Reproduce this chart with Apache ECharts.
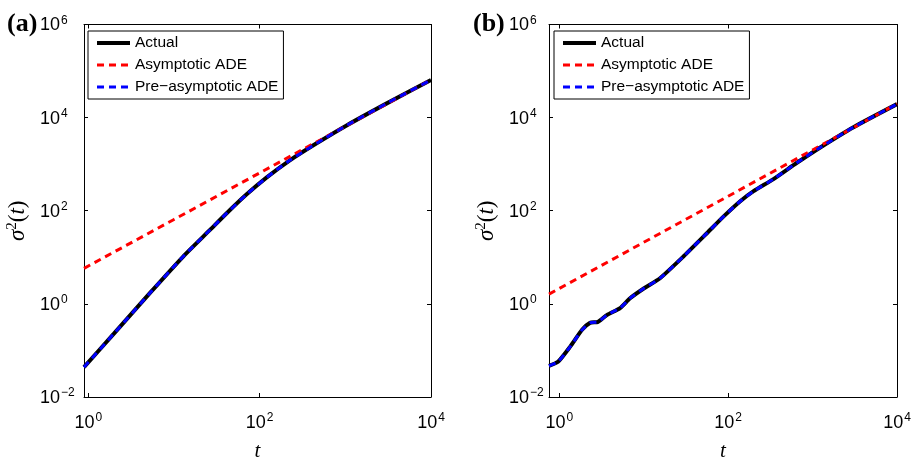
<!DOCTYPE html>
<html>
<head>
<meta charset="utf-8">
<script src="https://cdn.jsdelivr.net/npm/echarts@6.0.0/dist/echarts.min.js"></script>
<style>
  html, body { margin: 0; padding: 0; background: #fff; }
  #chart { width: 914px; height: 457px; }
</style>
</head>
<body>
<div id="chart"></div>
<script>
// Panel (a): variance sigma^2(t) versus time t
const actualA = [
  [0.89, 0.0438], [2, 0.232], [5.25, 1.72], [12.8, 10.4], [26.3, 38.7],
  [41.2, 88.3], [70.5, 225], [121, 520], [225, 1210], [462, 2810],
  [1035, 6800], [3162, 21000], [10000, 64600]
];
const asymptoticA = [
  [0.89, 5.8], [10, 65], [100, 650], [1000, 6500], [10000, 65000]
];
const preAsymptoticA = [
  [0.89, 0.0438], [2, 0.232], [5.25, 1.72], [12.8, 10.4], [26.3, 38.7],
  [41.2, 88.3], [70.5, 225], [121, 520], [225, 1210], [462, 2810],
  [1035, 6800], [3162, 21000], [10000, 64600]
];

// Panel (b)
const actualB = [
  [0.755, 0.0468], [0.966, 0.0569], [1.34, 0.119], [1.86, 0.277], [2.31, 0.391],
  [2.88, 0.411], [3.68, 0.581], [5.25, 0.813], [6.89, 1.32], [10, 2.14],
  [15.6, 3.56], [29.5, 10.4], [56.0, 32.9], [87.9, 74.6], [139, 160],
  [200, 263], [344, 479], [652, 1072], [1233, 2290], [3090, 6310], [10000, 19500]
];
const asymptoticB = [
  [0.755, 1.62], [10, 21], [100, 205], [1000, 2020], [10000, 19800]
];
const preAsymptoticB = [
  [0.755, 0.0468], [0.966, 0.0569], [1.34, 0.119], [1.86, 0.277], [2.31, 0.391],
  [2.88, 0.411], [3.68, 0.581], [5.25, 0.813], [6.89, 1.32], [10, 2.14],
  [15.6, 3.56], [29.5, 10.4], [56.0, 32.9], [87.9, 74.6], [139, 160],
  [200, 263], [344, 479], [652, 1072], [1233, 2290], [3090, 6310], [10000, 19500]
];

const seriesNames = ['Actual', 'Asymptotic ADE', 'Pre\u2212asymptotic ADE'];
const xTicks = [1, 100, 10000];
const yTicks = [0.01, 1, 100, 10000, 1000000];
const xMinA = 0.89, xMinB = 0.755, xMax = 10000;
const yMin = 0.01, yMax = 1000000;

const SANS = '"Liberation Sans", Arial, Helvetica, sans-serif';
const SERIF = '"Liberation Serif", "Times New Roman", serif';

// "10" with a raised exponent
function powLabel(v) {
  const e = Math.round(Math.log10(v));
  const s = e < 0 ? '\u2212' + (-e) : String(e);
  return '{b|10}{s|' + s + '}';
}
const powRich = {
  b: { fontSize: 18, fontFamily: SANS, color: '#000', lineHeight: 20, verticalAlign: 'bottom' },
  s: { fontSize: 12, fontFamily: SANS, color: '#000', lineHeight: 12, verticalAlign: 'top', padding: [0, 0, 0, 1] }
};

function xAxes(gridIndex, min) {
  const common = {
    type: 'log', logBase: 10, gridIndex: gridIndex, min: min, max: xMax,
    axisLine: { show: true, onZero: false, lineStyle: { color: '#000', width: 1 } },
    axisTick: { show: true, inside: true, length: 4, customValues: xTicks, lineStyle: { color: '#000' } },
    splitLine: { show: false }, minorTick: { show: false }
  };
  return [
    Object.assign({}, common, {
      position: 'bottom',
      axisLabel: { show: true, customValues: xTicks, margin: 15, formatter: powLabel, rich: powRich },
      name: 't', nameLocation: 'middle', nameGap: 44,
      nameTextStyle: { fontFamily: SERIF, fontStyle: 'italic', fontSize: 21, color: '#000' }
    }),
    Object.assign({}, common, { position: 'top', axisLabel: { show: false } })
  ];
}

function yAxes(gridIndex, labelMargin, nameGap) {
  const common = {
    type: 'log', logBase: 10, gridIndex: gridIndex, min: yMin, max: yMax,
    axisLine: { show: true, onZero: false, lineStyle: { color: '#000', width: 1 } },
    axisTick: { show: true, inside: true, length: 4, customValues: yTicks, lineStyle: { color: '#000' } },
    splitLine: { show: false }, minorTick: { show: false }
  };
  return [
    Object.assign({}, common, {
      position: 'left',
      axisLabel: { show: true, customValues: yTicks, margin: labelMargin, align: 'left', formatter: powLabel, rich: powRich },
      name: '{i|\u03C3}{s|2}{p|(}{i|t}{p|)}', nameLocation: 'middle', nameGap: nameGap,
      nameTextStyle: {
        padding: [0, 20, 0, 0],
        rich: {
          i: { fontFamily: SERIF, fontStyle: 'italic', fontSize: 23, color: '#000', lineHeight: 24, verticalAlign: 'bottom' },
          p: { fontFamily: SERIF, fontSize: 23, color: '#000', lineHeight: 24, verticalAlign: 'bottom' },
          s: { fontFamily: SERIF, fontSize: 15, color: '#000', lineHeight: 14, verticalAlign: 'top' }
        }
      }
    }),
    Object.assign({}, common, { position: 'right', axisLabel: { show: false } })
  ];
}

function panelSeries(xi, yi, actual, asym, pre) {
  return [
    { name: seriesNames[0], type: 'line', xAxisIndex: xi, yAxisIndex: yi, data: actual,
      symbol: 'none', smooth: 0.2, color: '#000',
      lineStyle: { color: '#000', width: 4 } },
    { name: seriesNames[1], type: 'line', xAxisIndex: xi, yAxisIndex: yi, data: asym,
      symbol: 'none', color: '#ff0000',
      lineStyle: { color: '#ff0000', width: 3, type: [7, 5] } },
    { name: seriesNames[2], type: 'line', xAxisIndex: xi, yAxisIndex: yi, data: pre,
      symbol: 'none', smooth: 0.2, color: '#0000ff',
      lineStyle: { color: '#0000ff', width: 3, type: [7, 5] } }
  ];
}

function legendAt(left) {
  return {
    left: left, top: 31, orient: 'vertical',
    data: [
      { name: seriesNames[0], lineStyle: { width: 4, color: '#000' } },
      { name: seriesNames[1], lineStyle: { width: 3, color: '#ff0000', type: [7, 5] } },
      { name: seriesNames[2], lineStyle: { width: 3, color: '#0000ff', type: [7, 5] } }
    ],
    itemStyle: { opacity: 0 },
    backgroundColor: '#fff', borderColor: '#000', borderWidth: 1,
    padding: [4, 5, 4, 7], itemWidth: 33, itemHeight: 14, itemGap: 6,
    selectedMode: false,
    textStyle: { fontFamily: SANS, fontSize: 15.5, color: '#000' }
  };
}

const chart = echarts.init(document.getElementById('chart'), null, { renderer: 'canvas' });
chart.setOption({
  animation: false,
  backgroundColor: '#fff',
  grid: [
    { left: 84, top: 24.5, width: 347, height: 372.5, containLabel: false, outerBoundsMode: 'none' },
    { left: 549, top: 24.5, width: 348, height: 372.5, containLabel: false, outerBoundsMode: 'none' }
  ],
  xAxis: [].concat(xAxes(0, xMinA), xAxes(1, xMinB)),
  yAxis: [].concat(yAxes(0, 44, 55), yAxes(1, 40, 51)),
  legend: [legendAt(88), legendAt(554)],
  series: [].concat(
    panelSeries(0, 0, actualA, asymptoticA, preAsymptoticA),
    panelSeries(2, 2, actualB, asymptoticB, preAsymptoticB)
  ),
  graphic: [
    { type: 'text', left: 7, top: 11, style: { text: '(a)', font: 'bold 26px ' + SERIF, fill: '#000' } },
    { type: 'text', left: 473, top: 11, style: { text: '(b)', font: 'bold 26px ' + SERIF, fill: '#000' } }
  ]
});
</script>
</body>
</html>
